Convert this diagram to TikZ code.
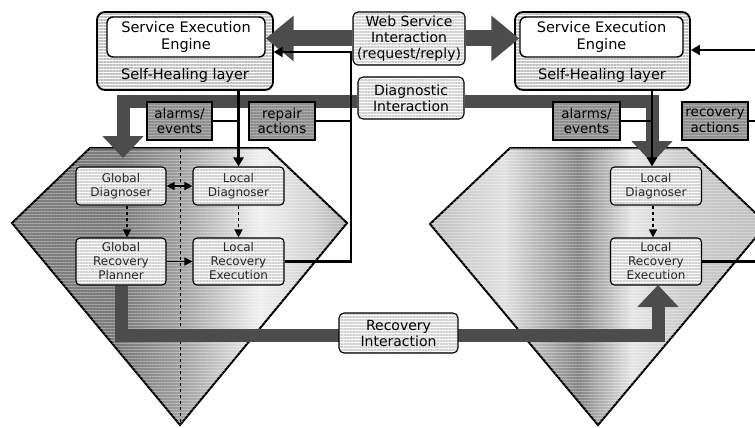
\documentclass[tikz,border=0pt]{standalone}
\usepackage{fontspec}
\setmainfont{DejaVu Sans}
\usetikzlibrary{arrows.meta,patterns.meta,calc}

\pgfdeclarehorizontalshading{hexL}{100bp}{color(0bp)=(black!50); color(25bp)=(black!50); color(41bp)=(black!52); color(50bp)=(black!38); color(62bp)=(black!6); color(70bp)=(black!18); color(75bp)=(black!30); color(100bp)=(black!30)}
\pgfdeclarehorizontalshading{hexR}{100bp}{color(0bp)=(black!25); color(25bp)=(black!25); color(36bp)=(black!12); color(47bp)=(black!48); color(55bp)=(black!10); color(62bp)=(black!20); color(75bp)=(black!25); color(100bp)=(black!25)}

\tikzset{
  outerbox/.style={draw=black, line width=1.8pt, rounded corners=8pt, inner sep=0pt,
     preaction={fill=white}, pattern={Lines[angle=0,distance=3pt,line width=1.3pt]}, pattern color=black!25},
  innerbox/.style={draw=black, line width=1.4pt, rounded corners=6pt, fill=white, inner sep=0pt, align=center,
     font=\fontsize{14.5}{17}\selectfont},
  bigtxt/.style={inner sep=0pt, font=\fontsize{14.5}{17}\selectfont},
  ibox/.style={draw=black, line width=1.1pt, rounded corners=5pt, inner sep=0pt, align=center,
     preaction={fill=white}, pattern={Lines[angle=0,distance=3pt,line width=1.2pt]}, pattern color=black!18,
     font=\fontsize{14}{16}\selectfont},
  hbox/.style={draw=black, line width=1.1pt, rounded corners=4pt, inner sep=0pt, align=center,
     preaction={fill=white}, pattern={Lines[angle=0,distance=3pt,line width=1.2pt]}, pattern color=black!18,
     text=black!85, font=\fontsize{12}{14}\selectfont},
  lbox/.style={draw=black, line width=1.1pt, inner sep=0pt, align=center,
     preaction={fill=black!32}, pattern={Lines[angle=0,distance=3pt,line width=1.2pt]}, pattern color=black!45,
     font=\fontsize{13.5}{15.5}\selectfont},
  bigarrow/.style={draw=black!70, line width=13pt, -{Triangle[width=40pt,length=22pt]}},
  bigline/.style={draw=black!70, line width=16pt, -{Triangle[width=44pt,length=28pt]}},
  thinline/.style={draw=black, line width=2.4pt},
  thinarrow/.style={draw=black, line width=2.4pt, -{Triangle[width=10pt,length=9pt]}},
  smallarrow/.style={draw=black, line width=1.3pt, -{Triangle[width=8pt,length=8pt]}},
  hexagon/.style={draw=black, line width=2pt, line join=miter,
     postaction={pattern={Lines[angle=0,distance=3pt,line width=1pt]}, pattern color=white, opacity=0.35}},
}

\begin{document}
\begin{tikzpicture}[x=1pt,y=-1pt]
\useasboundingbox (0,0) rectangle (755,428);
\clip (0,0) rectangle (755,428);

% hexagons
\path[hexagon, shading=hexL] (90,148) -- (268,148) -- (347,223) -- (180,425) -- (12,223) -- cycle;
\path[hexagon, shading=hexR] (510,148) -- (687,148) -- (767,224) -- (598,425) -- (430,224) -- cycle;
\draw[black, line width=0.9pt, dashed] (180,149) -- (180,424);

% top boxes
\node[outerbox, minimum width=176pt, minimum height=78pt] (shlL) at (185,51) {};
\node[innerbox, minimum width=158pt, minimum height=40pt] (seeL) at (186,37) {Service Execution\\Engine};
\node[bigtxt] (shlLt) at (185,75) {Self-Healing layer};
\node[outerbox, minimum width=175pt, minimum height=78pt] (shlR) at (602.5,51) {};
\node[innerbox, minimum width=163pt, minimum height=40pt] (seeR) at (601.5,37) {Service Execution\\Engine};
\node[bigtxt] (shlRt) at (602,75) {Self-Healing layer};

% interaction boxes
\node[ibox, minimum width=112pt, minimum height=53pt] (web) at (409,38.5) {Web Service\\Interaction\\(request/reply)};
\node[ibox, minimum width=106pt, minimum height=42pt] (diag) at (411,98) {Diagnostic\\Interaction};

% inner boxes
\node[hbox, minimum width=90pt, minimum height=38pt] (gd) at (121,186) {Global\\Diagnoser};
\node[hbox, minimum width=91pt, minimum height=38pt] (ld) at (238.5,186) {Local\\Diagnoser};
\node[hbox, minimum width=90pt, minimum height=47pt] (grp) at (121,261.5) {Global\\Recovery\\Planner};
\node[hbox, minimum width=91pt, minimum height=47pt] (lre) at (238.5,261.5) {Local\\Recovery\\Execution};
\node[hbox, minimum width=91pt, minimum height=38pt] (ldR) at (656,186) {Local\\Diagnoser};
\node[hbox, minimum width=91pt, minimum height=47pt] (lreR) at (656,261.5) {Local\\Recovery\\Execution};

% thick arrows
\coordinate (dL) at (123,158);
\coordinate (dR) at (652,163);
\coordinate (rb) at (658,285);
\draw[bigline] (web.west) -- (seeL.east |- web.west);
\draw[bigline] (web.east) -- (seeR.west |- web.east);
\draw[bigarrow] ($(diag.west)+(0,3)$) -| (dL);
\draw[bigarrow] ($(diag.east)+(0,3)$) -| (dR);
\draw[bigarrow] (grp.south) |- (rb |- 0,335) -- (rb);

% label boxes
\node[lbox, minimum width=65pt, minimum height=38pt] (alarmL) at (179.5,121) {alarms/\\events};
\node[lbox, minimum width=66pt, minimum height=38pt] (repairL) at (282,121) {repair\\actions};
\node[lbox, minimum width=67pt, minimum height=38pt] (alarmR) at (586.5,121) {alarms/\\events};
\node[lbox, minimum width=66pt, minimum height=38pt] (recovR) at (715,121) {recovery\\actions};

% recovery interaction
\node[ibox, minimum width=119pt, minimum height=40pt] (recint) at (398.5,333) {Recovery\\Interaction};

% thin lines
\coordinate (vL) at (351,52);
\coordinate (eR) at (770,50);
\coordinate (tR) at (652,90);
\draw[thinarrow] (ld.north |- shlL.south) -- (ld.north);
\draw[thinline] (alarmL.east) -- (alarmL.east -| ld.north);
\draw[thinline] (repairL.east) -- (repairL.east -| vL);
\draw[thinarrow] (lre.east) -| (vL) -- (vL -| shlL.east);
\draw[thinarrow] (tR) -- (tR |- ldR.north);
\draw[thinline] (alarmR.east) -- (alarmR.east -| tR);
\draw[thinline] (recovR.east) -- (recovR.east -| eR);
\draw[thinarrow] (lreR.east) -| (eR) -- (eR -| shlR.east);

% inner arrows
\draw[smallarrow, {Triangle[width=8pt,length=8pt]}-{Triangle[width=8pt,length=8pt]}] (gd.east) -- (ld.west);
\draw[smallarrow, dashed] ($(gd.south)+(6,0)$) -- ($(grp.north)+(6,0)$);
\draw[smallarrow, dashed] (ld.south) -- (lre.north);
\draw[smallarrow] (grp.east) -- (lre.west);
\draw[smallarrow, dashed] ($(ldR.south)+(-3,0)$) -- ($(lreR.north)+(-3,0)$);
\end{tikzpicture}
\end{document}
